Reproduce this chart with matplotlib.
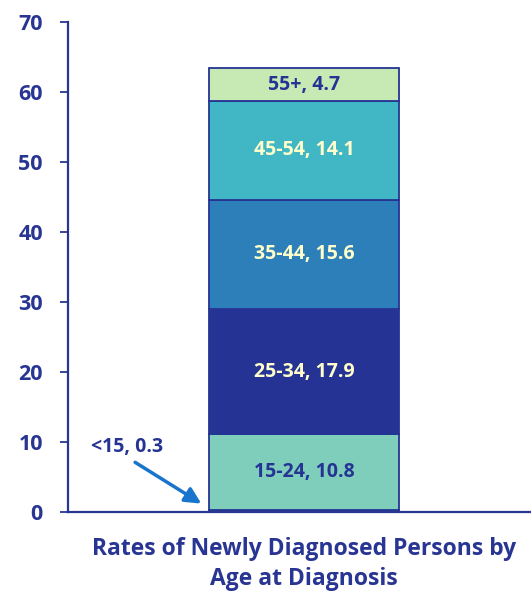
import matplotlib.pyplot as plt

plt.rcParams['font.family'] = ['Open Sans', 'DejaVu Sans']
plt.rcParams['font.weight'] = 'bold'

# age groups, stacked from the bottom
groups = ["<15", "15-24", "25-34", "35-44", "45-54", "55+"]
rates = [0.3, 10.8, 17.9, 15.6, 14.1, 4.7]
colors = ["#FFFFCC", "#7FCDBB", "#253494", "#2C7FB8", "#41B6C4", "#C7E9B4"]
text_colors = [None, "#253494", "#FFFFCC", "#FFFFCC", "#FFFFCC", "#253494"]
yticks = [0, 10, 20, 30, 40, 50, 60, 70]

navy = "#283593"

fig = plt.figure(figsize=(5.31, 5.95), dpi=100)
ax = fig.add_axes([0.128, 0.1395, 0.872, 0.8235])

bottom = 0
for g, r, c, tc in zip(groups, rates, colors, text_colors):
    ax.bar(0, r, width=0.41, bottom=bottom, color=c, edgecolor="#253494", linewidth=1.3)
    if tc is not None:
        ax.text(0, bottom + r / 2, f"{g}, {r}", ha="center", va="center",
                color=tc, fontsize=14, fontweight="bold")
    bottom += r

# smallest group is labelled outside the bar, with an arrow pointing at it
ax.text(-0.383, 9.3, f"{groups[0]}, {rates[0]}", ha="center", va="center",
        color="#253494", fontsize=14, fontweight="bold")
ax.annotate("", xy=(-0.222, 1.2), xytext=(-0.365, 7.1),
            arrowprops=dict(arrowstyle="-|>", color="#1874CD", lw=2.5,
                            mutation_scale=24, shrinkA=0, shrinkB=0))

ax.set_xlim(-0.51, 0.49)
ax.set_ylim(0, 70)
ax.set_yticks(yticks)
ax.set_xticks([])
ax.spines["top"].set_visible(False)
ax.spines["right"].set_visible(False)
for s in ["left", "bottom"]:
    ax.spines[s].set_color(navy)
    ax.spines[s].set_linewidth(1.6)
ax.tick_params(axis="y", colors=navy, length=6, width=1.3, pad=12, labelsize=15.5)
for lab in ax.get_yticklabels():
    lab.set_fontweight("bold")

fig.text(304 / 531, 1 - 564 / 595, "Rates of Newly Diagnosed Persons by\nAge at Diagnosis",
         ha="center", va="center", color=navy, fontsize=16.5, fontweight="bold",
         linespacing=1.3)

fig.savefig("out.png", dpi=100)
